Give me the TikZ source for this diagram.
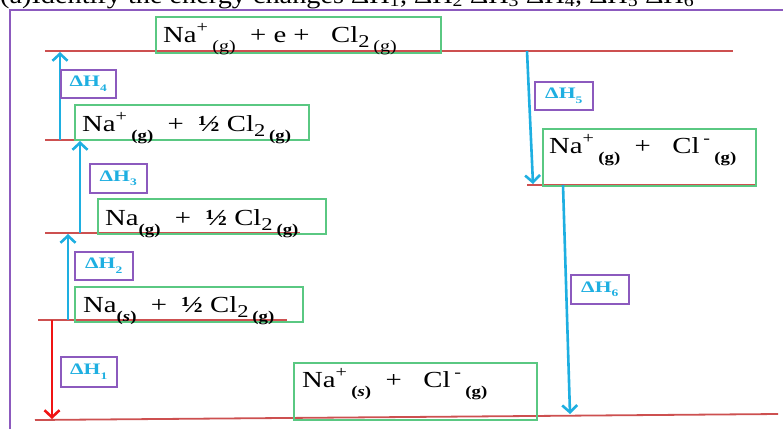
\documentclass[tikz,border=0pt]{standalone}
\usepackage{fontspec}
\setmainfont{Liberation Serif}
\newfontfamily\eqfont[FakeStretch=1.25]{Liberation Serif}
\newfontfamily\labfont[FakeStretch=1.35]{Liberation Serif}
\newfontfamily\headfont[FakeStretch=1.13]{Liberation Serif}
\usetikzlibrary{arrows.meta}
\definecolor{frameP}{RGB}{140,90,190}
\definecolor{boxG}{RGB}{90,200,130}
\definecolor{lvlR}{RGB}{205,80,80}
\definecolor{arrC}{RGB}{30,175,225}
\definecolor{arrR}{RGB}{240,20,20}
\newcommand\phsb[1]{\raisebox{-0.4em}{\fontsize{15}{15}\selectfont\bfseries #1}}
\newcommand\phsn[1]{\raisebox{-0.4em}{\fontsize{16}{16}\selectfont #1}}
\newcommand\subtwo{\raisebox{-0.25em}{\fontsize{18}{18}\selectfont 2}}
\newcommand\dHlab[1]{ΔH\raisebox{-0.3em}{\fontsize{10}{10}\selectfont\bfseries #1}}
\begin{document}
\begin{tikzpicture}[x=1pt,y=-1pt,
  level/.style={draw=lvlR, line width=1.8pt},
  gbox/.style={draw=boxG, line width=1.6pt, anchor=north west, inner sep=0pt},
  lbox/.style={draw=frameP, line width=1.5pt, anchor=north west, inner sep=0pt,
    text=arrC, font=\labfont\fontsize{16}{16}\selectfont\bfseries},
  eq/.style={anchor=base west, inner sep=0pt, font=\eqfont\fontsize{23}{25}\selectfont},
  cyarrow/.style={draw=arrC, line width=2.6pt, -{Straight Barb[length=7pt,width=15pt]}},
  rdarrow/.style={draw=arrR, line width=2.6pt, -{Straight Barb[length=7pt,width=15pt]}},
  ]
\useasboundingbox (0,0) rectangle (783,429);
\fill[white] (0,0) rectangle (783,429);
% clipped heading
\begin{scope}
\clip (0,0) rectangle (783,9);
\node[anchor=base west, inner sep=0pt, font=\headfont\fontsize{25}{27}\selectfont] (head) at (0,3)
  {(a)Identify the energy changes ΔH\textsubscript{1}, ΔH\textsubscript{2} ΔH\textsubscript{3} ΔH\textsubscript{4}, ΔH\textsubscript{5} ΔH\textsubscript{6}};
\end{scope}
% frame
\draw[frameP, line width=1.5pt] (10,429) -- (10,10) -- (783,10);
% levels
\draw[level] (45,51) -- (733,51);
\draw[level] (45,140) -- (300,140);
\draw[level] (45,233) -- (300,233);
\draw[level] (38,320) -- (287,320);
\draw[level] (527,185) -- (755,185);
\draw[level] (35,420) -- (778,414);
% green boxes
\node[gbox, minimum width=285pt, minimum height=36pt] (b1) at (155,16) {};
\node[gbox, minimum width=234pt, minimum height=35pt] (b2) at (74,104) {};
\node[gbox, minimum width=228pt, minimum height=35pt] (b3) at (97,198) {};
\node[gbox, minimum width=228pt, minimum height=35pt] (b4) at (74,286) {};
\node[gbox, minimum width=213pt, minimum height=57pt] (b5) at (542,128) {};
\node[gbox, minimum width=243pt, minimum height=57pt] (b6) at (293,362) {};
% equations
\node[eq] (t1) at (163,42) {Na\textsuperscript{+}\,\phsn{(g)}\ \ + e +\ \ \ Cl\subtwo\,\phsn{(g)}};
\node[eq] (t2) at (82,131) {Na\textsuperscript{+}\,\phsb{(g)}\ \ +\ \ \textbf{½} Cl\subtwo\,\phsb{(g)}};
\node[eq] (t3) at (105,225) {Na\phsb{(g)}\ \ +\ \ \textbf{½} Cl\subtwo\,\phsb{(g)}};
\node[eq] (t4) at (83,312) {Na\phsb{(\textit{s})}\ \ +\ \ \textbf{½} Cl\subtwo\,\phsb{(g)}};
\node[eq] (t5) at (549,153) {Na\textsuperscript{+}\,\phsb{(g)}\ \ +\ \ \ Cl\,\textsuperscript{-}\,\phsb{(g)}};
\node[eq] (t6) at (302,387) {Na\textsuperscript{+}\,\phsb{(\textit{s})}\ \ +\ \ \ Cl\,\textsuperscript{-}\,\phsb{(g)}};
% arrow end points
\coordinate (a4s) at (60,140); \coordinate (a4e) at (60,52);
\coordinate (a3s) at (80,233); \coordinate (a3e) at (80,141);
\coordinate (a2s) at (68,320); \coordinate (a2e) at (68,234);
\coordinate (a1s) at (52,320); \coordinate (a1e) at (52,419);
\coordinate (a5s) at (527,51); \coordinate (a5e) at (533,184);
\coordinate (a6s) at (563,185); \coordinate (a6e) at (570,414);
\draw[cyarrow] (a4s) -- (a4e);
\draw[cyarrow] (a3s) -- (a3e);
\draw[cyarrow] (a2s) -- (a2e);
\draw[rdarrow] (a1s) -- (a1e);
\draw[cyarrow] (a5s) -- (a5e);
\draw[cyarrow] (a6s) -- (a6e);
% labels
\node[lbox, minimum width=55pt, minimum height=28pt] (l4) at (60,69) {\dHlab{4}};
\node[lbox, minimum width=57pt, minimum height=29pt] (l3) at (89,163) {\dHlab{3}};
\node[lbox, minimum width=58pt, minimum height=28pt] (l2) at (74,251) {\dHlab{2}};
\node[lbox, minimum width=56pt, minimum height=30pt] (l1) at (60,356) {\dHlab{1}};
\node[lbox, minimum width=58pt, minimum height=28pt] (l5) at (534,81) {\dHlab{5}};
\node[lbox, minimum width=58pt, minimum height=29pt] (l6) at (570,274) {\dHlab{6}};
\end{tikzpicture}
\end{document}
